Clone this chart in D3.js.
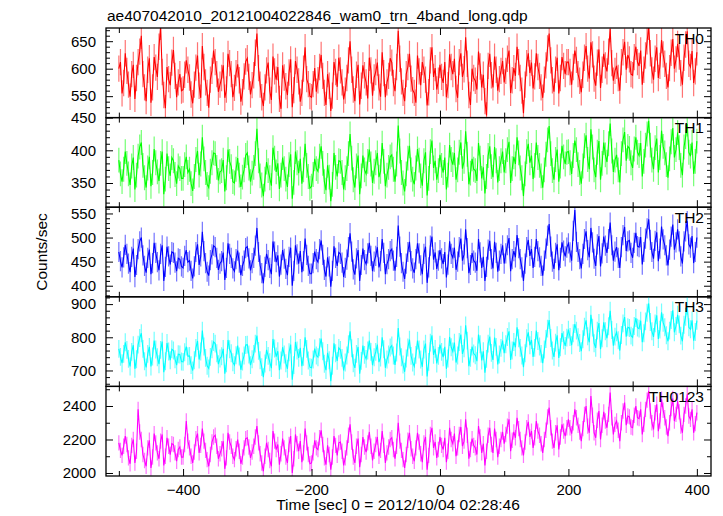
<!DOCTYPE html>
<html><head><meta charset="utf-8">
<script src="https://cdn.jsdelivr.net/npm/d3@7"></script>
<style>body{margin:0;background:#fff}</style>
</head><body><svg id="c" width="723" height="516"></svg>
<script>
const title = "ae407042010_20121004022846_wam0_trn_4band_long.qdp";
const xLabel = "Time [sec] 0 = 2012/10/04 02:28:46";
const yLabel = "Counts/sec";
const panelNames = ["TH0", "TH1", "TH2", "TH3", "TH0123"];
const panelColors = ["#ff0000", "#00ff00", "#0000ff", "#00ffff", "#ff00ff"];
const times = d3.range(-500, 400.1, 2.5);
const xDomain = [-520, 422];
const xMajorTicks = [-400, -200, 0, 200, 400];
const xMinorTicks = [-500, -300, -100, 100, 300];
const yDomains = [[511, 674], [313, 450], [377, 563], [652, 922], [1982, 2517]];
const yMajorTicks = [[550, 600, 650], [350, 400, 450], [400, 450, 500, 550], [700, 800, 900], [2000, 2200, 2400]];
const yMinorSteps = [10, 10, 10, 20, 100];
const errors = [24, 19, 21, 27, 46];

const th0 = [
600,612,555,574,628,596,571,549,590,607,545,583,612,631,660,590,566,541,598,619,538,566,621,602,585,640,676,594,552,528,603,581,570,611,634,587,548,575,590,560,
562,589,615,598,584,553,537,571,602,624,569,547,641,603,575,556,529,580,596,633,612,590,558,571,583,606,547,562,627,610,590,548,565,592,608,579,540,557,586,613,
619,585,553,570,588,629,664,601,571,548,532,566,597,611,560,543,622,595,580,603,545,527,606,584,568,552,593,617,530,561,614,598,577,540,556,600,639,581,572,550,
548,572,601,558,579,603,625,587,556,534,590,569,523,551,612,594,567,620,597,575,544,560,583,615,650,598,562,541,589,607,535,569,606,588,575,546,620,597,551,584,
594,611,566,549,630,592,548,575,587,619,611,574,559,603,669,618,577,556,541,590,603,627,582,561,556,538,624,595,570,612,598,580,533,557,615,639,585,601,562,578,
607,585,574,612,548,570,626,603,590,618,563,547,612,628,585,599,657,609,552,534,600,583,578,562,631,604,566,589,541,515,605,627,588,566,622,598,560,581,596,614,
575,596,618,633,556,579,601,587,640,612,583,560,519,571,610,628,592,611,564,586,628,603,587,566,547,580,606,637,664,615,579,558,598,620,555,583,621,605,590,612,
612,594,571,603,633,616,590,578,557,589,620,641,600,582,648,626,582,569,611,635,565,598,627,606,595,631,672,610,578,596,605,583,560,612,630,649,598,625,617,590,
588,621,640,612,605,633,571,598,624,650,676,628,597,580,618,639,583,605,652,626,609,587,566,601,629,654,600,617,645,622,592,571,620,644,668,609,603,632,574,595,630];
const th1 = [
385,364,352,371,398,380,364,347,376,389,340,362,391,405,412,377,358,343,373,390,345,366,402,381,367,353,380,398,333,356,395,372,361,389,384,363,349,376,372,357,
357,378,390,366,371,349,338,360,386,399,362,379,420,387,366,348,343,368,381,396,395,374,354,367,369,385,337,358,401,383,375,352,350,371,388,362,344,359,370,392,
396,373,352,365,374,395,433,384,361,347,330,356,382,369,358,346,404,388,367,380,341,362,389,372,356,344,378,394,326,351,398,381,365,387,349,370,410,377,360,342,
345,363,387,372,368,391,406,380,352,339,377,359,322,348,396,374,360,384,383,366,340,358,372,395,425,388,355,343,376,392,333,361,392,370,364,383,401,379,350,368,
381,396,359,368,411,383,345,362,374,390,393,371,352,379,438,399,366,350,337,364,388,407,370,356,348,373,402,385,361,346,384,397,331,357,398,415,373,384,355,369,
393,377,366,389,340,362,408,386,378,396,355,370,397,412,372,383,429,394,348,365,387,371,369,353,411,388,357,374,334,360,392,406,375,359,405,384,351,372,384,398,
366,384,401,413,350,372,390,379,420,396,373,358,330,364,398,410,381,392,356,377,412,389,377,361,343,370,394,416,437,395,369,355,386,401,352,376,407,390,379,397,
398,381,364,392,415,401,378,366,349,376,407,423,386,371,432,405,370,359,397,414,355,380,412,393,382,410,441,399,367,385,393,370,351,395,416,428,384,406,403,381,
373,402,420,397,392,411,360,383,408,425,445,408,385,371,404,418,366,389,430,406,396,378,358,387,413,434,389,401,427,404,377,362,405,421,440,397,391,412,364,383,414];
const th2 = [
470,451,438,459,485,466,446,428,460,477,418,443,476,492,500,463,441,427,458,475,424,447,489,468,449,432,466,484,410,439,481,461,444,470,468,448,430,457,455,440,
437,462,474,449,452,431,415,440,470,486,443,461,512,472,447,429,421,453,465,483,480,458,433,446,451,469,412,437,488,466,458,436,430,455,473,448,422,441,452,478,
481,457,432,447,458,483,520,470,442,426,405,439,466,453,437,424,492,471,449,463,419,444,474,456,435,422,460,479,400,431,484,465,446,472,428,451,498,464,441,425,
425,447,471,455,449,476,494,464,433,419,459,440,398,431,482,458,441,469,466,448,418,437,454,480,509,471,434,423,457,474,410,443,477,453,445,467,489,462,430,450,
462,480,438,451,497,468,424,445,455,472,476,452,431,460,525,481,447,429,414,446,470,491,451,436,427,455,488,467,442,424,466,481,406,438,483,502,454,469,435,452,
474,457,445,470,417,444,492,466,458,479,433,450,480,498,452,465,517,478,426,443,468,452,448,431,497,469,437,460,410,439,475,493,455,436,491,468,429,452,466,484,
446,467,484,499,430,455,472,459,505,478,455,438,410,446,480,495,462,476,437,460,497,472,459,441,421,452,477,504,528,481,450,435,468,486,432,458,490,473,461,479,
488,469,452,514,557,491,470,455,436,466,497,513,474,459,520,490,456,441,486,503,440,467,502,483,468,497,531,484,452,471,480,458,437,480,505,522,472,492,494,468,
458,489,510,482,480,501,444,470,498,519,538,495,470,456,493,511,451,477,523,496,484,463,442,475,502,527,475,490,517,492,461,446,492,513,534,486,479,503,447,470,500];
const th3 = [
765,741,722,750,785,762,735,712,756,776,705,734,778,798,812,765,728,709,750,771,712,742,790,763,740,719,762,787,695,728,783,757,731,764,760,734,716,749,748,727,
726,755,772,743,744,716,700,731,768,789,733,757,820,772,738,714,706,741,764,786,781,752,719,736,743,765,690,722,792,764,752,725,716,746,775,742,702,727,745,777,
778,748,716,734,750,781,805,759,731,710,680,721,762,744,725,707,795,766,742,758,701,730,770,748,722,705,755,778,672,716,786,760,738,768,713,741,800,765,730,710,
708,733,766,745,740,770,796,758,720,701,753,731,668,714,782,752,729,768,762,738,700,724,745,779,818,767,722,708,750,771,690,729,775,747,735,760,790,756,716,740,
756,778,725,739,800,764,708,733,748,769,775,745,717,754,828,772,740,718,696,736,769,793,744,724,712,747,790,763,733,711,763,781,682,726,784,806,747,765,721,744,
778,756,740,771,705,736,801,770,757,784,724,745,786,808,750,767,836,790,713,738,772,751,746,728,808,779,730,758,693,735,781,802,753,732,799,771,718,748,768,790,
752,779,801,818,732,760,786,770,830,797,768,745,710,752,797,815,776,792,741,768,820,789,772,750,722,763,795,826,852,798,760,741,784,806,738,770,813,791,774,799,
823,801,776,812,840,820,800,783,758,794,832,851,803,785,868,829,782,768,820,843,764,797,845,818,797,833,880,822,775,802,815,791,760,807,842,861,802,830,828,805,
800,834,858,829,826,850,785,812,848,874,902,846,818,801,842,866,795,823,875,844,830,806,788,820,852,881,815,834,868,839,805,788,838,862,895,830,824,851,790,816,850];
const th0123 = [
2180,2135,2105,2160,2220,2170,2090,2055,2165,2200,2060,2130,2380,2245,2200,2110,2075,2040,2150,2195,2030,2095,2235,2180,2120,2085,2190,2230,2045,2100,2210,2160,2110,2175,2170,2120,2070,2140,2155,2095,
2095,2170,2310,2190,2150,2100,2060,2125,2205,2235,2120,2165,2265,2190,2135,2080,2040,2110,2185,2215,2225,2160,2085,2115,2145,2190,2025,2090,2240,2185,2160,2100,2080,2145,2200,2130,2055,2095,2150,2205,
2210,2155,2090,2125,2160,2215,2280,2180,2115,2060,2010,2100,2180,2140,2075,2040,2250,2190,2140,2170,2050,2115,2205,2150,2095,2060,2170,2220,2000,2085,2230,2175,2130,2190,2065,2120,2265,2180,2110,2055,
2060,2120,2195,2150,2140,2210,2255,2170,2090,2050,2165,2110,2020,2095,2220,2165,2105,2180,2185,2130,2045,2090,2150,2225,2290,2185,2095,2060,2160,2205,2035,2110,2215,2155,2125,2180,2245,2160,2075,2130,
2170,2215,2100,2135,2250,2165,2060,2120,2155,2200,2210,2140,2085,2160,2300,2190,2135,2080,2030,2110,2195,2240,2145,2100,2070,2150,2240,2185,2115,2065,2180,2215,2020,2105,2230,2270,2150,2185,2090,2140,
2215,2165,2140,2210,2065,2130,2270,2200,2175,2235,2100,2150,2230,2275,2160,2190,2320,2225,2085,2140,2205,2165,2150,2110,2280,2215,2120,2175,2045,2130,2225,2270,2170,2120,2265,2200,2095,2160,2200,2245,
2175,2230,2280,2320,2130,2195,2245,2210,2330,2265,2200,2150,2105,2185,2270,2305,2215,2250,2150,2210,2310,2250,2225,2175,2120,2200,2255,2335,2390,2270,2190,2150,2240,2285,2140,2215,2290,2250,2220,2270,
2320,2270,2235,2300,2380,2330,2285,2245,2190,2265,2350,2400,2280,2240,2460,2345,2240,2210,2315,2370,2200,2285,2365,2310,2270,2350,2480,2330,2230,2290,2310,2255,2190,2300,2370,2420,2285,2340,2335,2275,
2270,2345,2400,2330,2325,2380,2230,2290,2380,2435,2490,2370,2300,2260,2360,2410,2250,2310,2440,2375,2330,2275,2220,2300,2385,2445,2310,2350,2430,2365,2280,2240,2350,2400,2470,2340,2320,2380,2240,2295,2360];
const seriesValues = [th0, th1, th2, th3, th0123];

const FONT = "'Liberation Sans', Arial, Helvetica, sans-serif";
const svg = d3.select("#c");
const left = 106, right = 711, top0 = 28, bottom = 476;
const ph = (bottom - top0) / 5;
const x = d3.scaleLinear().domain(xDomain).range([left, right]);
const fmt = d3.format("d");

svg.append("text").attr("x", 107).attr("y", 21).attr("font-family", FONT)
  .attr("font-size", 15.5).text(title);

function styleAxis(g, size) {
  g.select(".domain").remove();
  g.selectAll("line").attr("stroke", "#000").attr("stroke-width", 1);
  g.selectAll("text").attr("font-family", FONT).attr("font-size", size).attr("fill", "#000");
}

seriesValues.forEach((vals, i) => {
  const pt = top0 + i * ph, pb = pt + ph;
  const y = d3.scaleLinear().domain(yDomains[i]).range([pb, pt]);
  const col = panelColors[i];
  const data = vals.map((v, k) => ({t: times[k], v})).filter(d => d.t !== undefined);
  const clipId = "clip" + i;
  svg.append("clipPath").attr("id", clipId).append("rect")
    .attr("x", left).attr("y", pt).attr("width", right - left).attr("height", ph);
  const g = svg.append("g").attr("clip-path", `url(#${clipId})`);
  g.selectAll("line.err").data(data).join("line").attr("class", "err")
    .attr("x1", d => x(d.t)).attr("x2", d => x(d.t))
    .attr("y1", d => y(d.v - errors[i])).attr("y2", d => y(d.v + errors[i]))
    .attr("stroke", col).attr("stroke-opacity", 0.55).attr("stroke-width", 1.2);
  g.append("path").datum(data)
    .attr("d", d3.line().x(d => x(d.t)).y(d => y(d.v)))
    .attr("fill", "none").attr("stroke", col).attr("stroke-width", 1.1);

  const [d0, d1] = yDomains[i];
  const step = yMinorSteps[i];
  const minors = d3.range(Math.ceil(d0 / step) * step, d1 + 0.001, step)
    .filter(v => !yMajorTicks[i].includes(v));
  styleAxis(svg.append("g").attr("transform", `translate(${left},0)`)
    .call(d3.axisLeft(y).tickValues(yMajorTicks[i]).tickSize(-7).tickPadding(10).tickFormat(fmt)), 15);
  styleAxis(svg.append("g").attr("transform", `translate(${left},0)`)
    .call(d3.axisLeft(y).tickValues(minors).tickSize(-4).tickFormat("")), 15);
  styleAxis(svg.append("g").attr("transform", `translate(${right},0)`)
    .call(d3.axisRight(y).tickValues(yMajorTicks[i]).tickSize(-7).tickFormat("")), 15);
  styleAxis(svg.append("g").attr("transform", `translate(${right},0)`)
    .call(d3.axisRight(y).tickValues(minors).tickSize(-4).tickFormat("")), 15);

  const gb = svg.append("g").attr("transform", `translate(0,${pb})`)
    .call(d3.axisBottom(x).tickValues(xMajorTicks).tickSize(-7).tickPadding(8)
      .tickFormat(i === 4 ? (d => d < 0 ? "\u2212" + Math.abs(d) : String(d)) : ""));
  styleAxis(gb, 15);
  gb.selectAll("text").attr("dy", "0.71em");
  styleAxis(svg.append("g").attr("transform", `translate(0,${pb})`)
    .call(d3.axisBottom(x).tickValues(xMinorTicks).tickSize(-5).tickFormat("")), 15);
  styleAxis(svg.append("g").attr("transform", `translate(0,${pt})`)
    .call(d3.axisTop(x).tickValues(xMajorTicks).tickSize(-7).tickFormat("")), 15);
  styleAxis(svg.append("g").attr("transform", `translate(0,${pt})`)
    .call(d3.axisTop(x).tickValues(xMinorTicks).tickSize(-5).tickFormat("")), 15);

  svg.append("rect").attr("x", left).attr("y", pt).attr("width", right - left).attr("height", ph)
    .attr("fill", "none").attr("stroke", "#000").attr("stroke-width", 1.3);

  svg.append("text").attr("x", 704).attr("y", pt + 15.5).attr("text-anchor", "end")
    .attr("font-family", FONT).attr("font-size", 15.5).attr("fill", "#000").text(panelNames[i]);
});

svg.append("text").attr("x", 398).attr("y", 510).attr("text-anchor", "middle")
  .attr("font-family", FONT).attr("font-size", 15.5).text(xLabel);
svg.append("text").attr("transform", `translate(47,${(top0 + bottom) / 2}) rotate(-90)`)
  .attr("text-anchor", "middle").attr("font-family", FONT).attr("font-size", 15.5).text(yLabel);
</script></body></html>
